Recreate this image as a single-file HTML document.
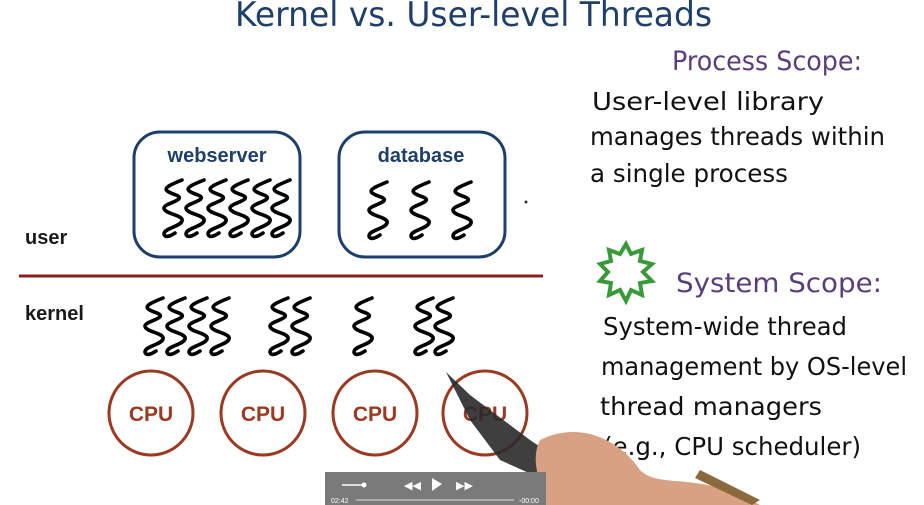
<!DOCTYPE html>
<html><head><style>
body{margin:0;width:924px;height:505px;overflow:hidden;background:#fff}
svg{display:block}
.h{font-family:"DejaVu Sans","Liberation Sans",sans-serif}
</style></head><body>
<svg width="924" height="505" viewBox="0 0 924 505">
<defs>
<path id="t" d="M20,0 C0,8 0,10 14,15 C26,20 2,23 2,28 C2,34 22,35 20,41 C18,47 2,48 2,54 C3,59 10,55 13,53" fill="none" stroke="#000" stroke-width="3.6" stroke-linecap="round"/>
</defs>
<text x="235" y="26" class="h" font-size="34" fill="#1e3f6a" textLength="477" lengthAdjust="spacingAndGlyphs">Kernel  vs. User-level Threads</text>
<text x="672" y="70" class="h" font-size="27" fill="#5a3d7a" textLength="190" lengthAdjust="spacingAndGlyphs">Process Scope:</text>
<text x="592" y="110" class="h" font-size="25" fill="#111" textLength="232" lengthAdjust="spacingAndGlyphs">User-level library</text>
<text x="590" y="145" class="h" font-size="25" fill="#111" textLength="295" lengthAdjust="spacingAndGlyphs">manages threads within</text>
<text x="590" y="182" class="h" font-size="25" fill="#111" textLength="198" lengthAdjust="spacingAndGlyphs">a single process</text>
<text x="676" y="292" class="h" font-size="27" fill="#5a3d7a" textLength="206" lengthAdjust="spacingAndGlyphs">System Scope:</text>
<text x="603" y="335" class="h" font-size="25" fill="#111" textLength="244" lengthAdjust="spacingAndGlyphs">System-wide thread</text>
<text x="601" y="375" class="h" font-size="25" fill="#111" textLength="306" lengthAdjust="spacingAndGlyphs">management by OS-level</text>
<text x="600" y="415" class="h" font-size="25" fill="#111" textLength="222" lengthAdjust="spacingAndGlyphs">thread managers</text>
<text x="603" y="455" class="h" font-size="25" fill="#111" textLength="258" lengthAdjust="spacingAndGlyphs">(e.g., CPU scheduler)</text>
<polygon points="626,244 631,254 642,250 640,261 652,264 643,272 652,281 640,283 642,295 631,290 626,301 620,290 609,295 611,283 600,281 608,272 600,264 611,261 609,250 620,254" fill="none" stroke="#3a9a3a" stroke-width="4"/>
<rect x="134" y="132" width="166" height="125" rx="26" fill="none" stroke="#1e3f6a" stroke-width="3"/>
<rect x="339" y="132" width="166" height="125" rx="26" fill="none" stroke="#1e3f6a" stroke-width="3"/>
<text x="217" y="162" text-anchor="middle" font-family="Liberation Sans,sans-serif" font-weight="bold" font-size="20" fill="#1e3f6a">webserver</text>
<text x="421" y="162" text-anchor="middle" font-family="Liberation Sans,sans-serif" font-weight="bold" font-size="20" fill="#1e3f6a">database</text>
<text x="25" y="244" font-family="Liberation Sans,sans-serif" font-weight="bold" font-size="20" fill="#1a1a1a">user</text>
<text x="25" y="320" font-family="Liberation Sans,sans-serif" font-weight="bold" font-size="20" fill="#1a1a1a">kernel</text>
<line x1="19" y1="276" x2="543" y2="276" stroke="#8b1f1f" stroke-width="3"/>
<circle cx="526" cy="202" r="1.5" fill="#333"/>
<use href="#t" x="162" y="180"/><use href="#t" x="184" y="180"/><use href="#t" x="206" y="180"/>
<use href="#t" x="228" y="180"/><use href="#t" x="250" y="180"/><use href="#t" x="270" y="180"/>
<use href="#t" x="367" y="182"/><use href="#t" x="409" y="182"/><use href="#t" x="451" y="182"/>
<use href="#t" x="143" y="298"/><use href="#t" x="165" y="298"/><use href="#t" x="187" y="298"/><use href="#t" x="209" y="298"/>
<use href="#t" x="268" y="298"/><use href="#t" x="290" y="298"/>
<use href="#t" x="352" y="298"/>
<use href="#t" x="413" y="298"/><use href="#t" x="433" y="298"/>
<g fill="none" stroke="#9a3a22" stroke-width="3">
<circle cx="151" cy="413" r="42"/><circle cx="263" cy="413" r="42"/><circle cx="375" cy="413" r="42"/><circle cx="485" cy="413" r="42"/>
</g>
<g font-family="Liberation Sans,sans-serif" font-weight="bold" font-size="21" fill="#9a3a22" text-anchor="middle">
<text x="151" y="421">CPU</text><text x="263" y="421">CPU</text><text x="375" y="421">CPU</text><text x="485" y="421">CPU</text>
</g>
<path d="M446,372 L470,395 L530,440 L560,460 L540,478 L500,460 L470,420 Z" fill="#2a2a2a" opacity="0.9"/>
<path d="M540,440 C580,420 620,440 640,470 C660,490 700,470 760,505 L545,505 C540,480 530,460 540,440 Z" fill="#d9a184"/>
<path d="M700,470 L760,500 L752,505 L695,478 Z" fill="#8a6a3a"/>
<rect x="325" y="472" width="221" height="33" fill="#7a7a7a"/>
<polygon points="432,478 432,491 442,484" fill="#fff"/>
<line x1="356" y1="500" x2="514" y2="500" stroke="#ddd" stroke-width="1"/>
<line x1="342" y1="485" x2="365" y2="485" stroke="#fff" stroke-width="1.5"/><circle cx="364" cy="485" r="2.5" fill="#fff"/>
<text x="404" y="489" font-size="11" fill="#fff" font-family="Liberation Sans,sans-serif">◀◀</text>
<text x="456" y="489" font-size="11" fill="#fff" font-family="Liberation Sans,sans-serif">▶▶</text>
<text x="331" y="503" font-size="7" fill="#fff" font-family="Liberation Sans,sans-serif">02:42</text>
<text x="519" y="503" font-size="7" fill="#fff" font-family="Liberation Sans,sans-serif">-00:00</text>
</svg>
</body></html>
